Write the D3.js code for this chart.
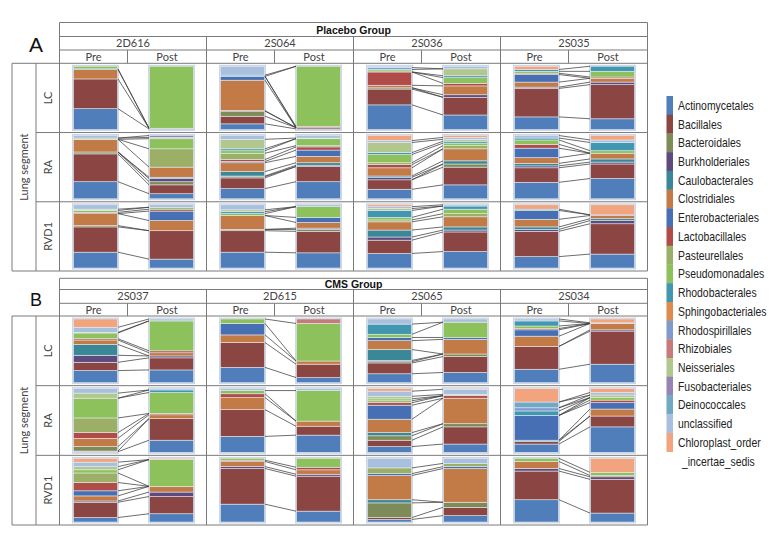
<!DOCTYPE html>
<html><head><meta charset="utf-8">
<script src="https://cdn.jsdelivr.net/npm/d3@7"></script>
<style>body{margin:0;background:#fff}</style>
</head><body>
<script>
// ---------- DATA ----------
const categories = ["Actinomycetales","Bacillales","Bacteroidales","Burkholderiales","Caulobacterales","Clostridiales","Enterobacteriales","Lactobacillales","Pasteurellales","Pseudomonadales","Rhodobacterales","Sphingobacteriales","Rhodospirillales","Rhizobiales","Neisseriales","Fusobacteriales","Deinococcales","unclassified","Chloroplast_order"];
const legendExtra = "_incertae_sedis";
const colors = ["#4F7EBB","#8B4543","#7E8B58","#5E4A7D","#3A8798","#C27A47","#4670B3","#B04B49","#9CAF67","#8CC15C","#4197AF","#DD8A4D","#7F9ACB","#C77A7A","#B2C78D","#9585B5","#6FA9C5","#A8C0DD","#F1A47E"];
const segments = ["LC","RA","RVD1"];
const phases = ["Pre","Post"];
const subjectsPlacebo = ["2D616","2S064","2S036","2S035"];
const subjectsCMS = ["2S037","2D615","2S065","2S034"];

// each subject: [LC pre, LC post, RA pre, RA post, RVD1 pre, RVD1 post]; 19 values in category order
const s2D616 = [
 [33,47,0,0,0,15,1,0,0,4,0,0,0,0,0,0,0,0,0],
 [1,1,0,0,0,0,0,0,0,98,0,0,0,0,0,0,0,0,0],
 [27,44,3,0,0,20,0,0,0,0,0,0,0,0,2,0,0,4,0],
 [8,14,5,5,2,16,0,0,29,16,0,0,0,0,2,3,0,0,0],
 [25,40,2,0,0,19,0,2,0,3,0,0,0,0,2,0,0,7,0],
 [14,45,0,0,0,16,15,3,0,3,0,0,0,0,0,0,0,4,0]];
const s2S064 = [
 [9,12,8,1,0,48,6,0,0,0,2,0,0,0,0,0,0,14,0],
 [1,2,0,0,0,0,0,2,0,95,0,0,0,0,0,0,0,0,0],
 [16,17,2,1,7,14,2,3,10,4,3,0,0,0,15,0,0,6,0],
 [27,24,0,2,4,10,10,5,2,11,0,0,0,0,1,0,0,4,0],
 [25,34,2,0,0,22,0,0,0,3,3,0,0,0,3,0,0,8,0],
 [24,34,3,2,0,9,8,0,0,17,0,0,0,0,0,0,0,3,0]];
const s2S036 = [
 [39,25,2,0,0,4,0,21,0,0,0,0,0,0,4,0,3,2,0],
 [23,28,0,4,0,14,0,4,0,9,3,0,0,0,11,0,0,4,0],
 [15,15,0,4,2,13,0,5,3,13,3,0,0,0,16,0,0,3,8],
 [22,28,5,0,5,19,0,0,5,4,3,0,0,0,3,0,0,3,3],
 [23,21,0,5,11,13,0,0,3,4,11,0,0,0,3,0,0,3,3],
 [26,31,0,3,5,16,0,0,5,7,5,0,0,0,0,0,0,2,0]];
const s2S035 = [
 [20,45,0,2,0,8,12,2,0,3,3,0,0,0,0,0,0,0,5],
 [17,54,0,4,0,6,0,2,0,9,8,0,0,0,0,0,0,0,0],
 [26,23,0,3,4,9,15,6,0,7,3,0,0,0,0,0,0,4,0],
 [32,23,0,3,5,9,0,0,0,4,13,0,0,0,0,0,0,4,7],
 [18,40,0,3,4,12,14,0,0,0,2,0,0,0,0,0,0,0,7],
 [22,48,0,5,3,5,1,0,0,0,0,0,0,0,0,0,0,0,16]];
const s2S037 = [
 [19,13,0,11,17,7,0,2,0,9,0,0,0,0,1,0,0,8,13],
 [20,19,0,3,0,5,0,3,0,47,0,0,0,0,0,0,0,3,0],
 [1,1,7,0,0,13,0,9,23,31,0,0,0,0,8,0,0,7,0],
 [19,34,0,0,0,6,0,2,0,33,4,0,0,0,0,0,0,2,0],
 [7,24,0,2,0,8,8,13,15,5,0,0,0,0,5,0,0,7,6],
 [13,27,0,7,0,9,0,0,0,42,0,0,0,0,0,0,0,0,2]];
const s2D615 = [
 [24,39,0,0,0,12,18,0,0,7,0,0,0,0,0,0,0,0,0],
 [8,21,0,0,0,5,0,0,0,59,0,0,0,7,0,0,0,0,0],
 [25,42,0,0,0,19,0,6,0,5,0,0,0,0,0,0,0,3,0],
 [27,14,0,0,0,8,0,0,0,48,0,0,0,0,0,0,0,3,0],
 [28,56,0,3,0,8,0,2,0,3,0,0,0,0,0,0,0,0,0],
 [17,55,0,3,0,7,0,4,0,14,0,0,0,0,0,0,0,0,0]];
const s2S065 = [
 [14,17,2,2,17,14,5,0,0,5,16,0,0,0,0,0,0,8,0],
 [16,25,4,0,0,23,3,0,0,24,0,0,0,0,0,0,0,5,0],
 [9,10,7,0,5,21,22,4,3,3,0,0,0,0,4,0,0,8,4],
 [13,27,5,0,0,40,0,4,0,0,0,0,0,0,2,0,0,8,1],
 [4,3,23,0,5,38,3,0,9,0,0,0,0,0,0,0,0,15,0],
 [10,13,8,0,0,53,3,0,5,0,0,0,0,0,0,0,0,8,0]];
const s2S034 = [
 [21,36,0,0,0,16,10,2,0,4,8,0,0,0,0,0,0,3,0],
 [29,52,0,2,0,10,0,0,0,0,0,0,0,0,0,0,0,1,6],
 [13,4,0,0,2,0,39,0,0,0,7,0,5,0,0,0,9,0,21],
 [40,17,0,0,0,11,10,4,0,4,0,0,0,0,4,0,0,4,6],
 [35,45,0,4,0,11,0,0,0,5,0,0,0,0,0,0,0,0,0],
 [14,53,0,4,0,2,0,0,0,5,0,0,0,0,0,0,0,0,22]];

// ---------- DRAW ----------
const W = 777, H = 539;
const svg = d3.select("body").append("svg").attr("width", W).attr("height", H);
svg.append("rect").attr("width", W).attr("height", H).attr("fill", "#fff");

const lineCol = "#7a7a7a";
const tableFont = "Lato, 'Open Sans', sans-serif";
const groups = [
  {title: "Placebo Group", letter: "A", subjects: subjectsPlacebo, data: [s2D616, s2S064, s2S036, s2S035],
   hdr: [22.5, 36.5, 50, 63.3], bottom: 271, letterY: 52, letterSize: 21},
  {title: "CMS Group", letter: "B", subjects: subjectsCMS, data: [s2S037, s2D615, s2S065, s2S034],
   hdr: [278.3, 289.5, 303.3, 316], bottom: 525, letterY: 305.5, letterSize: 18}
];
const xLeft = 12, xSep = 36, x0 = 59.5, x1 = 647.5;
const stack = d3.stack().keys(d3.range(categories.length)).value((d, k) => d[k]);

groups.forEach(g => {
  const G = svg.append("g");
  const colScale = d3.scaleBand().domain(g.subjects).range([x0, x1]);
  const rowScale = d3.scaleBand().domain(segments).range([g.hdr[3], g.bottom]);
  const phaseX = d3.scaleOrdinal().domain(phases).range([14, 90]);
  const barW = 44;

  g.subjects.forEach((subj, si) => {
    const cx = colScale(subj);
    segments.forEach((seg, ri) => {
      const ry = rowScale(seg), rh = rowScale.bandwidth();
      const y = d3.scaleLinear().domain([0, 100]).range([ry + rh - 3, ry + 3]);
      const pre = g.data[si][ri * 2], post = g.data[si][ri * 2 + 1];
      const series = stack([pre, post]);
      const xPre = cx + phaseX("Pre"), xPost = cx + phaseX("Post");
      [xPre, xPost].forEach(bx => {
        G.append("rect").attr("x", bx - 0.5).attr("y", y(100) - 0.5).attr("width", barW + 1).attr("height", y(0) - y(100) + 1)
          .attr("fill", "none").attr("stroke", "#cdd7e5").attr("stroke-width", 2);
      });
      series.forEach((s, k) => {
        [xPre, xPost].forEach((bx, b) => {
          const d = s[b];
          if (d[1] - d[0] <= 0) return;
          G.append("rect").attr("x", bx).attr("width", barW)
            .attr("y", y(d[1])).attr("height", y(d[0]) - y(d[1]))
            .attr("fill", colors[k]).attr("stroke", "rgba(235,240,246,0.75)").attr("stroke-width", 0.7);
        });
      });
      series.forEach((s, k) => {
        if (pre[k] === 0 && post[k] === 0) return;
        const a = s[0][1], b = s[1][1];
        if (a >= 99.9 && b >= 99.9) return;
        G.append("line").attr("x1", xPre + barW + 0.5).attr("x2", xPost - 0.5)
          .attr("y1", y(a)).attr("y2", y(b))
          .attr("stroke", "#3c3c3c").attr("stroke-width", 0.75);
      });
    });
  });

  const hl = (ya, xa, xb) => G.append("line").attr("x1", xa).attr("x2", xb).attr("y1", ya).attr("y2", ya).attr("stroke", lineCol).attr("stroke-width", 1);
  const vl = (xa, ya, yb) => G.append("line").attr("x1", xa).attr("x2", xa).attr("y1", ya).attr("y2", yb).attr("stroke", lineCol).attr("stroke-width", 1);
  hl(g.hdr[0], x0, x1); hl(g.hdr[1], x0, x1); hl(g.hdr[2], x0, x1);
  hl(g.hdr[3], xLeft, x1); hl(g.bottom, xLeft, x1);
  segments.slice(1).forEach(seg => hl(rowScale(seg), xSep, x1));
  vl(xLeft, g.hdr[3], g.bottom); vl(xSep, g.hdr[3], g.bottom);
  vl(x0, g.hdr[0], g.bottom); vl(x1, g.hdr[0], g.bottom);
  g.subjects.slice(1).forEach(s => vl(colScale(s), g.hdr[1], g.bottom));
  g.subjects.forEach(s => vl(colScale(s) + 68, g.hdr[2], g.hdr[3]));

  G.append("text").attr("x", 36).attr("y", g.letterY).attr("text-anchor", "middle")
    .attr("font-family", "'Liberation Sans', Arial, sans-serif").attr("font-size", g.letterSize).attr("fill", "#111").text(g.letter);
  G.append("text").attr("x", (x0 + x1) / 2).attr("y", (g.hdr[0] + g.hdr[1]) / 2 + 4).attr("text-anchor", "middle")
    .attr("font-family", "'Liberation Sans', Arial, sans-serif").attr("font-weight", "bold").attr("font-size", 10.5).attr("fill", "#111").text(g.title);
  g.subjects.forEach(s => {
    const cx = colScale(s);
    G.append("text").attr("x", cx + colScale.bandwidth() / 2).attr("y", (g.hdr[1] + g.hdr[2]) / 2 + 4).attr("text-anchor", "middle")
      .attr("font-family", tableFont).attr("font-size", 11).attr("fill", "#444").text(s);
    G.append("text").attr("x", cx + 34).attr("y", (g.hdr[2] + g.hdr[3]) / 2 + 4).attr("text-anchor", "middle")
      .attr("font-family", tableFont).attr("font-size", 11).attr("fill", "#444").text(phases[0]);
    G.append("text").attr("x", cx + 68 + (colScale.bandwidth() - 68) / 2).attr("y", (g.hdr[2] + g.hdr[3]) / 2 + 4).attr("text-anchor", "middle")
      .attr("font-family", tableFont).attr("font-size", 11).attr("fill", "#444").text(phases[1]);
  });
  segments.forEach(seg => {
    const cy = rowScale(seg) + rowScale.bandwidth() / 2;
    G.append("text").attr("transform", `translate(${(xSep + x0) / 2 + 4},${cy}) rotate(-90)`).attr("text-anchor", "middle")
      .attr("font-family", tableFont).attr("font-size", 11).attr("fill", "#444").text(seg);
  });
  G.append("text").attr("transform", `translate(${(xLeft + xSep) / 2 + 4},${(g.hdr[3] + g.bottom) / 2}) rotate(-90)`).attr("text-anchor", "middle")
    .attr("font-family", tableFont).attr("font-size", 11).attr("fill", "#444").text("Lung segment");
});

// legend (narrow text via horizontal scale)
const leg = svg.append("g");
const ly = d3.scaleBand().domain(categories).range([96, 96 + 18.72 * categories.length]);
const legFont = "'Liberation Sans', Arial, sans-serif";
categories.forEach((c, i) => {
  leg.append("rect").attr("x", 666.5).attr("y", ly(c)).attr("width", 6.5).attr("height", ly.bandwidth() + 0.3).attr("fill", colors[i]);
  leg.append("text").attr("transform", `translate(678,${ly(c) + ly.bandwidth() / 2 + 4.5}) scale(0.8,1)`)
    .attr("font-family", legFont).attr("font-size", 13).attr("fill", "#222").text(c);
});
leg.append("text").attr("transform", `translate(682,${96 + 18.72 * categories.length + 14}) scale(0.8,1)`)
  .attr("font-family", legFont).attr("font-size", 13).attr("fill", "#222").text(legendExtra);
</script>
</body></html>
